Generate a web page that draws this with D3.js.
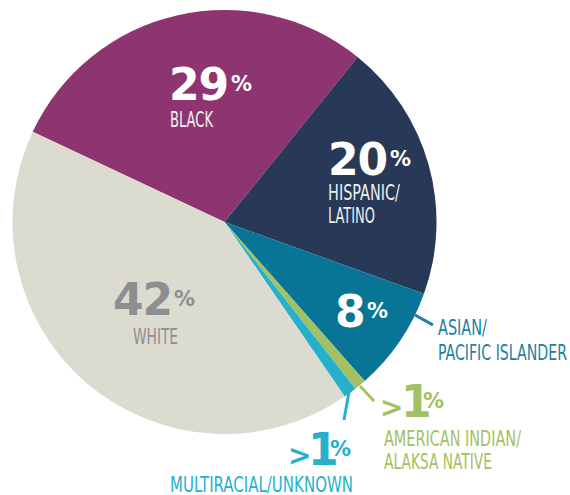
<!DOCTYPE html>
<html>
<head>
<meta charset="utf-8">
<script src="https://cdn.jsdelivr.net/npm/d3@7"></script>
<style>
  html, body { margin: 0; padding: 0; background: #ffffff; }
  svg { display: block; }
</style>
</head>
<body>
<svg id="chart" width="570" height="495"></svg>
<script>
// ---- data ----
const categories = ["Black", "Hispanic/Latino", "Asian/Pacific Islander", "American Indian/Alaksa Native", "Multiracial/Unknown", "White"];
const values = [28.8, 19.7, 8.0, 0.9, 1.0, 41.6];
const valueLabels = ["29", "20", "8", "1", "1", "42"];
const valuePrefixes = ["", "", "", ">", ">", ""];
const nameLines = [["BLACK"], ["HISPANIC/", "LATINO"], ["ASIAN/", "PACIFIC ISLANDER"], ["AMERICAN INDIAN/", "ALAKSA NATIVE"], ["MULTIRACIAL/UNKNOWN"], ["WHITE"]];

// ---- styles / layout ----
const sliceColors = ["#8e3470", "#283857", "#087496", "#a3c062", "#27b0cc", "#dcdbd0"];
const numColors = ["#ffffff", "#ffffff", "#ffffff", "#a3c062", "#27b0cc", "#8d8e90"];
const nameColors = ["#f6f0f4", "#eef0f4", "#1d7ea2", "#a3c062", "#27b0cc", "#8d8e90"];
// prefix x, number x, percent x, number baseline, name x, name baseline, line gap, name widths, anchor
const layout = [
  {fx: 0,   nx: 169, px: 231, nb: 100, tx: 170, tb: 127, gap: 23, w: [43], anchor: "start"},
  {fx: 0,   nx: 328, px: 390, nb: 175, tx: 328, tb: 200, gap: 23, w: [72, 47], anchor: "start"},
  {fx: 0,   nx: 335, px: 367, nb: 327, tx: 438, tb: 335, gap: 25, w: [49, 129], anchor: "start"},
  {fx: 380, nx: 401, px: 423, nb: 417, tx: 384, tb: 446, gap: 23, w: [137, 108], anchor: "start"},
  {fx: 288, nx: 308, px: 330, nb: 465, tx: 170, tb: 492, gap: 23, w: [183], anchor: "start"},
  {fx: 0,   nx: 113, px: 174, nb: 315, tx: 155.5, tb: 344, gap: 23, w: [45], anchor: "middle"}
];
const leaderLines = {
  2: [[415, 315], [433, 325]],
  3: [[360, 386], [374, 401]],
  4: [[349, 392], [344, 420]]
};
const leaderColors = {2: "#1d7ea2", 3: "#a3c062", 4: "#27b0cc"};

const cx = 224.5, cy = 222, R = 212;
const startDeg = -64.8;

const svg = d3.select("#chart");
const g = svg.append("g").attr("transform", `translate(${cx},${cy})`);

const pie = d3.pie().sort(null).value(d => d)
  .startAngle(startDeg * Math.PI / 180)
  .endAngle(startDeg * Math.PI / 180 + 2 * Math.PI);
const arcs = pie(values);
const arc = d3.arc().innerRadius(0).outerRadius(R);

g.selectAll("path.slice").data(arcs).enter().append("path")
  .attr("class", "slice")
  .attr("d", arc)
  .attr("fill", (d, i) => sliceColors[i]);

Object.keys(leaderLines).forEach(k => {
  const pts = leaderLines[k];
  svg.append("line")
    .attr("x1", pts[0][0]).attr("y1", pts[0][1])
    .attr("x2", pts[1][0]).attr("y2", pts[1][1])
    .attr("stroke", leaderColors[k])
    .attr("stroke-width", 3);
});

const numFont = "'DejaVu Sans', sans-serif";
const nameFont = "'Liberation Sans Narrow', 'DejaVu Sans Condensed', 'Liberation Sans', sans-serif";

const labels = svg.append("g");
arcs.forEach((d, i) => {
  const L = layout[i];
  const grp = labels.append("g");
  if (valuePrefixes[i]) {
    grp.append("text")
      .attr("x", L.fx).attr("y", L.nb)
      .attr("font-family", numFont).attr("font-weight", "bold")
      .attr("font-size", 28)
      .attr("fill", numColors[i])
      .text(valuePrefixes[i]);
  }
  grp.append("text")
    .attr("x", L.nx).attr("y", L.nb)
    .attr("font-family", numFont).attr("font-weight", "bold")
    .attr("font-size", 44).attr("letter-spacing", -1)
    .attr("fill", numColors[i])
    .text(valueLabels[i]);
  grp.append("text")
    .attr("x", L.px).attr("y", L.nb - 9)
    .attr("font-family", numFont).attr("font-weight", "bold")
    .attr("font-size", 21)
    .attr("fill", numColors[i])
    .text("%");
  nameLines[i].forEach((line, j) => {
    grp.append("text")
      .attr("x", L.tx)
      .attr("y", L.tb + j * L.gap)
      .attr("font-family", nameFont)
      .attr("font-size", 21)
      .attr("text-anchor", L.anchor)
      .attr("textLength", L.w[j])
      .attr("lengthAdjust", "spacingAndGlyphs")
      .attr("fill", nameColors[i])
      .text(line);
  });
});
</script>
</body>
</html>
